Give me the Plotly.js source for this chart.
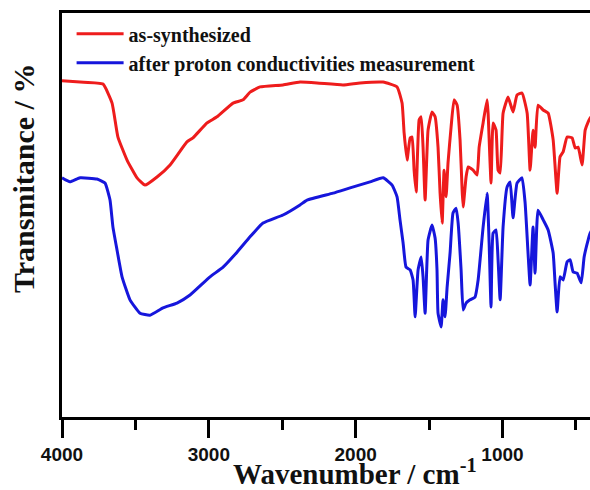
<!DOCTYPE html>
<html>
<head>
<meta charset="utf-8">
<script src="https://cdn.plot.ly/plotly-3.0.1.min.js"></script>
<style>
html,body{margin:0;padding:0;overflow:hidden;background:#fff;}
#chart{width:600px;height:490px;}
</style>
</head>
<body>
<div id="chart"></div>
<script>
// Series names
const seriesNames = ["as-synthesized", "after proton conductivities measurement"];

// as-synthesized (red)
const wavenumberRed = [4000,3877,3721,3659,3619,3557,3489,3435,3353,3264,3149,3108,3012,2944,2835,2767,2719,2651,2495,2379,2263,2086,1970,1813,1718,1684,1670,1650,1629,1616,1602,1588,1568,1554,1541,1527,1507,1480,1459,1439,1425,1411,1398,1384,1371,1350,1330,1309,1289,1275,1268,1248,1234,1200,1173,1159,1132,1105,1098,1078,1064,1044,1030,1016,996,962,928,901,867,832,812,792,778,758,723,689,655,628,608,587,560,526,505,485,458,437,417,403,380];
const transmittanceRed = [83.2,82.9,82.4,77.7,69.3,63.6,59.2,57.4,59.4,62.4,68.1,69.1,72.8,74.3,77.7,78.5,80.4,81.7,82.2,82.9,82.7,82.2,82.7,82.9,81.7,77.7,70.3,63.6,69.1,69.3,61.1,55.7,73.5,74.3,66.8,53.7,71.0,75.5,74.3,66.8,55.4,48.0,61.1,54.5,62.9,71.8,78.5,77.2,68.6,56.2,52.0,59.4,61.9,61.1,59.9,66.8,72.8,78.5,75.2,57.9,72.8,71.0,61.1,60.4,75.2,79.2,75.5,79.7,80.2,75.2,61.1,71.0,66.8,77.2,76.0,75.2,68.6,55.4,64.4,65.6,69.3,69.1,66.6,66.8,62.4,71.0,73.0,74.0,75.0];

// after proton conductivities measurement (blue)
const wavenumberBlue = [4000,3946,3877,3762,3707,3673,3653,3625,3591,3537,3469,3401,3312,3217,3128,2992,2903,2808,2719,2631,2495,2379,2331,2154,2038,1902,1813,1752,1718,1698,1677,1657,1629,1609,1595,1575,1554,1541,1527,1507,1480,1459,1446,1439,1418,1405,1391,1377,1357,1337,1316,1302,1282,1268,1248,1221,1187,1166,1132,1105,1091,1078,1064,1044,1030,1016,996,969,948,928,901,867,846,826,812,792,778,758,723,689,655,642,628,608,587,560,539,519,492,464,444,417,403,380];
const transmittanceBlue = [59.2,58.2,59.2,58.9,57.9,53.7,47.0,41.3,34.7,29.0,25.7,25.2,27.0,28.2,30.2,34.7,37.1,40.8,44.6,48.0,50.0,52.5,53.7,55.4,56.7,58.2,59.2,57.4,54.5,48.8,43.1,37.1,36.4,33.9,24.8,36.4,39.6,34.7,25.7,43.8,47.5,44.3,36.4,25.7,22.3,29.0,24.8,32.2,40.6,50.5,51.7,48.0,36.4,26.5,28.2,29.0,29.7,33.9,47.0,55.4,43.1,27.2,45.5,46.3,38.9,29.0,47.0,56.9,58.2,49.3,57.9,59.2,53.0,40.6,32.7,47.0,35.6,51.2,48.8,46.3,40.6,33.2,26.0,34.7,33.9,38.4,38.9,35.9,35.6,33.2,39.6,43.8,45.5,47.0];

// Axis ticks
const xTickVals = [4000, 3000, 2000, 1000];
const xTickText = ["4000", "3000", "2000", "1000"];

const traces = [
  {x: wavenumberRed, y: transmittanceRed, name: seriesNames[0], type: "scatter", mode: "lines",
   line: {color: "#ee1c1c", width: 3, shape: "spline", smoothing: 0.4}},
  {x: wavenumberBlue, y: transmittanceBlue, name: seriesNames[1], type: "scatter", mode: "lines",
   line: {color: "#1616dc", width: 3, shape: "spline", smoothing: 0.4}}
];

const layout = {
  width: 600, height: 490,
  margin: {l: 62, r: 5, t: 13, b: 73},
  paper_bgcolor: "#fff", plot_bgcolor: "#fff",
  showlegend: true,
  legend: {x: 0.018, y: 0.997, xanchor: "left", yanchor: "top", itemwidth: 47,
    bgcolor: "rgba(0,0,0,0)", borderwidth: 0, tracegroupgap: 0,
    font: {family: "Liberation Serif", size: 20, weight: "bold", color: "#111"}},
  xaxis: {
    range: [4000, 370], showgrid: false, zeroline: false,
    showline: true, linecolor: "#000", linewidth: 3, mirror: true,
    ticks: "outside", ticklen: 18, tickwidth: 3, tickcolor: "#000",
    tickvals: xTickVals, ticktext: xTickText, ticklabelstandoff: 0,
    tickfont: {family: "Liberation Sans", size: 19, weight: "bold", color: "#111"},
    minor: {dtick: 500, tick0: 0, ticks: "outside", ticklen: 10, tickwidth: 3, tickcolor: "#000"}
  },
  yaxis: {
    range: [0, 100], showgrid: false, zeroline: false,
    showline: true, linecolor: "#000", linewidth: 3, mirror: true,
    ticks: "", showticklabels: false
  },
  annotations: [{
    text: "Transmitance / %", xref: "paper", yref: "paper",
    x: 0, y: 0.589, xanchor: "center", yanchor: "middle", xshift: -39,
    textangle: -90, showarrow: false,
    font: {family: "Liberation Serif", size: 30, weight: "bold", color: "#111"}
  }, {
    text: "Wavenumber / cm<sup>-1</sup>", xref: "paper", yref: "paper",
    x: 0.55, y: 0, xanchor: "center", yanchor: "bottom", yshift: -75,
    showarrow: false,
    font: {family: "Liberation Serif", size: 29, weight: "bold", color: "#111"}
  }]
};

Plotly.newPlot("chart", traces, layout, {displayModeBar: false, staticPlot: true});
</script>
</body>
</html>
